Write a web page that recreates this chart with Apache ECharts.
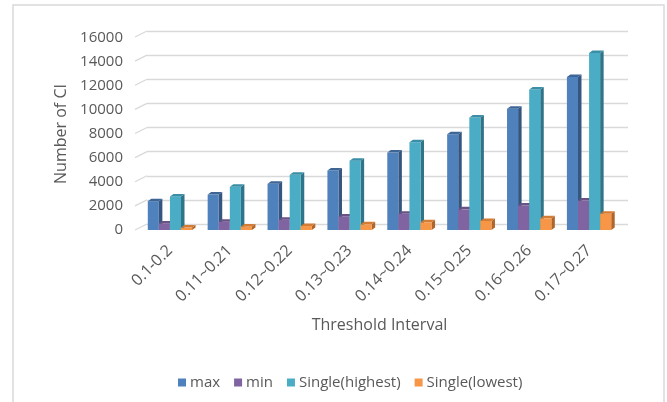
<!DOCTYPE html>
<html>
<head>
<meta charset="utf-8">
<script src="https://cdn.jsdelivr.net/npm/echarts@6/dist/echarts.min.js"></script>
<style>
  html, body { margin: 0; padding: 0; background: #fff; }
  #chart { width: 667px; height: 402px; }
</style>
</head>
<body>
<div id="chart"></div>
<script>
// Threshold intervals along the x axis
const categories = ['0.1-0.2', '0.11~0.21', '0.12~0.22', '0.13~0.23', '0.14~0.24', '0.15~0.25', '0.16~0.26', '0.17~0.27'];

// Number of CI per interval
const maxValues      = [2400, 2950, 3850, 4960, 6450, 7980, 10100, 12750];
const minValues      = [550, 690, 860, 1130, 1350, 1720, 2040, 2450];
const highestValues  = [2800, 3600, 4600, 5780, 7320, 9380, 11700, 14750];
const lowestValues   = [200, 300, 330, 470, 640, 750, 970, 1350];

// Value axis ticks
const yTicks = [0, 2000, 4000, 6000, 8000, 10000, 12000, 14000, 16000];

const seriesDefs = [
  { name: 'max', data: maxValues, color: '#4F81BD', side: '#34567f', top: '#3d6596' },
  { name: 'min', data: minValues, color: '#8064A2', side: '#564370', top: '#6a5287' },
  { name: 'Single(highest)', data: highestValues, color: '#4BACC6', side: '#2f7489', top: '#3a8ea5' },
  { name: 'Single(lowest)', data: lowestValues, color: '#F79646', side: '#b0652a', top: '#d47b34' }
];

const textColor = '#595959';
const gridColor = '#d9d9d9';
const fontFamily = '"Open Sans", "Noto Sans", sans-serif';

// Bar drawn as a small box: front face, right side face, top face
function boxRenderer(index, def) {
  return function (params, api) {
    const cat = api.value(0);
    const v = api.value(1);
    const base = api.coord([cat, 0]);
    const top = api.coord([cat, v]);
    const catW = api.size([1, 0])[0];
    const bw = catW * 0.185;
    const dx = 3.5, dy = 2.5;
    const x0 = base[0] + (index - 2) * bw;
    const x1 = x0 + bw;
    const yTop = top[1], yBase = base[1];
    return {
      type: 'group',
      children: [
        {
          type: 'polygon',
          shape: { points: [[x1, yTop], [x1 + dx, yTop - dy], [x1 + dx, yBase - dy], [x1, yBase]] },
          style: { fill: def.side }
        },
        {
          type: 'rect',
          shape: { x: x0, y: yTop, width: bw, height: yBase - yTop },
          style: { fill: def.color }
        },
        {
          type: 'polygon',
          shape: { points: [[x0, yTop], [x0 + dx, yTop - dy], [x1 + dx, yTop - dy], [x1, yTop]] },
          style: { fill: def.top }
        }
      ]
    };
  };
}

// Short slanted lines joining the front value labels to the back wall gridlines
function wallEdgeRenderer(params, api) {
  const p = api.coord([0, api.value(1)]);
  return {
    type: 'line',
    shape: { x1: p[0] - 12, y1: p[1] + 6, x2: p[0], y2: p[1] },
    style: { stroke: gridColor, lineWidth: 1.3 }
  };
}

const series = seriesDefs.map((def, i) => ({
  name: def.name,
  type: 'custom',
  xAxisIndex: 0,
  yAxisIndex: 0,
  clip: false,
  z: 3,
  itemStyle: { color: def.color },
  renderItem: boxRenderer(i, def),
  data: def.data.map((v, k) => [k, v])
}));

series.unshift({
  type: 'custom',
  xAxisIndex: 1,
  yAxisIndex: 1,
  clip: false,
  silent: true,
  z: 1,
  renderItem: wallEdgeRenderer,
  data: yTicks.map(v => [0, v])
});

const chart = echarts.init(document.getElementById('chart'), null, { renderer: 'canvas' });

chart.setOption({
  animation: false,
  backgroundColor: '#ffffff',
  textStyle: { fontFamily: fontFamily },
  graphic: [{
    type: 'rect',
    shape: { x: 13, y: 5, width: 651, height: 430 },
    style: { fill: 'none', stroke: gridColor, lineWidth: 1.5 },
    silent: true
  }],
  legend: {
    left: 173,
    top: 370,
    itemWidth: 8,
    itemHeight: 8,
    itemGap: 14,
    icon: 'rect',
    textStyle: { color: textColor, fontSize: 15, fontFamily: fontFamily, padding: [0, 0, 0, -1] },
    data: seriesDefs.map(d => ({ name: d.name, itemStyle: { color: d.color } }))
  },
  grid: [
    { left: 140, right: 48, top: 38, bottom: 172 },
    { left: 147, right: 39, top: 31, bottom: 178 }
  ],
  xAxis: [
    {
      gridIndex: 0,
      type: 'category',
      data: categories,
      axisLine: { show: false },
      axisTick: { show: false },
      axisLabel: {
        rotate: 45,
        margin: 18,
        color: textColor,
        fontSize: 16,
        fontFamily: fontFamily
      },
      name: 'Threshold Interval',
      nameLocation: 'middle',
      nameGap: 87,
      nameTextStyle: { color: textColor, fontSize: 16, fontFamily: fontFamily }
    },
    {
      gridIndex: 1,
      type: 'value',
      min: 0,
      max: 1,
      show: false
    }
  ],
  yAxis: [
    {
      gridIndex: 0,
      type: 'value',
      min: 0,
      max: 16000,
      interval: 2000,
      axisLine: { show: false },
      axisTick: { show: false },
      splitLine: { show: false },
      axisLabel: {
        color: textColor,
        fontSize: 15,
        margin: 17,
        padding: [4, 0, 0, 0],
        fontFamily: fontFamily,
        formatter: v => String(v)
      },
      name: 'Number of CI',
      nameLocation: 'middle',
      nameGap: 68,
      nameRotate: 90,
      nameTextStyle: { color: textColor, fontSize: 16, fontFamily: fontFamily }
    },
    {
      gridIndex: 1,
      type: 'value',
      min: 0,
      max: 16000,
      interval: 2000,
      axisLine: { show: false },
      axisTick: { show: false },
      axisLabel: { show: false },
      splitLine: { show: true, lineStyle: { color: gridColor, width: 1.3 } }
    }
  ],
  series: series
});
</script>
</body>
</html>
